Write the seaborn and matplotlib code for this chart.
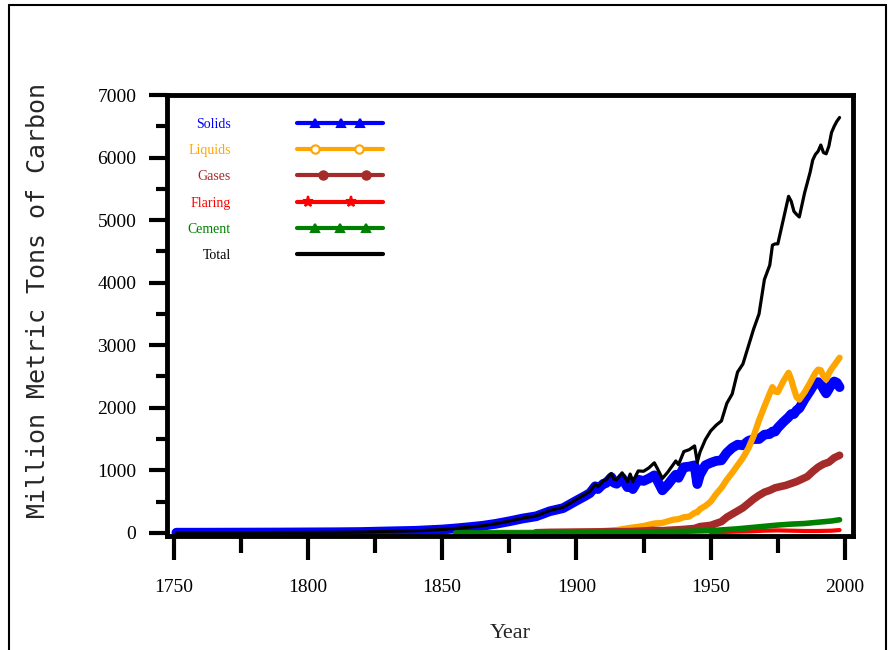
import numpy as np
import pandas as pd
import matplotlib
matplotlib.use("Agg")
import matplotlib.pyplot as plt
from matplotlib.lines import Line2D
from matplotlib.legend_handler import HandlerLine2D
from matplotlib.ticker import MultipleLocator
import seaborn as sns

# ---------------- data (million metric tons of carbon) ----------------
years_total = [1751, 1760, 1770, 1780, 1790, 1800, 1810, 1820, 1830, 1840,
               1850, 1855, 1860, 1865, 1870, 1875, 1880, 1885, 1890, 1895,
               1900, 1903, 1905, 1907, 1908, 1910, 1911, 1913, 1914, 1915,
               1917, 1919, 1920, 1921, 1923, 1925, 1927, 1929, 1930, 1932,
               1934, 1936, 1937, 1938, 1940, 1942, 1944, 1945, 1946, 1948,
               1950, 1952, 1954, 1956, 1958, 1960, 1962, 1964, 1966, 1968,
               1970, 1972, 1973, 1974, 1975, 1977, 1979, 1980, 1981, 1982,
               1983, 1985, 1987, 1988, 1989, 1990, 1991, 1992, 1993, 1994,
               1995, 1996, 1997, 1998]
total = [3, 3, 4, 5, 6, 8, 10, 14, 24, 33,
         54, 71, 91, 114, 147, 188, 236, 273, 356, 409,
         534, 610, 663, 780, 740, 830, 850, 950, 860, 850,
         960, 820, 940, 820, 990, 985, 1040, 1120, 1040, 870,
         970, 1090, 1150, 1090, 1300, 1330, 1390, 1130, 1290, 1490,
         1630, 1720, 1790, 2070, 2220, 2570, 2700, 2980, 3260, 3500,
         4050, 4280, 4600, 4620, 4620, 5000, 5380, 5300, 5140, 5090,
         5050, 5440, 5760, 5960, 6050, 6100, 6200, 6080, 6060, 6180,
         6400, 6500, 6580, 6640]

years_solid = years_total
solids = [3, 3, 4, 5, 6, 8, 10, 14, 24, 33,
          54, 71, 91, 113, 145, 185, 230, 265, 345, 395,
          515, 585, 635, 745, 700, 785, 795, 890, 800, 785,
          880, 730, 830, 700, 850, 830, 870, 920, 850, 680,
          770, 880, 930, 880, 1050, 1060, 1080, 780, 930, 1080,
          1120, 1150, 1160, 1280, 1360, 1410, 1400, 1470, 1500, 1500,
          1570, 1580, 1620, 1620, 1680, 1770, 1850, 1900, 1900, 1960,
          1990, 2140, 2270, 2340, 2400, 2410, 2380, 2300, 2230, 2300,
          2380, 2420, 2400, 2330]

years_liquid = [1870, 1875, 1880, 1885, 1890, 1895, 1900, 1905, 1910, 1913,
                1915, 1920, 1925, 1929, 1932, 1936, 1938, 1940, 1942, 1944,
                1945, 1946, 1948, 1950, 1952, 1954, 1956, 1958, 1960, 1962,
                1964, 1966, 1968, 1970, 1972, 1973, 1974, 1975, 1977, 1979,
                1980, 1981, 1982, 1983, 1985, 1987, 1988, 1989, 1990, 1991,
                1992, 1993, 1994, 1995, 1996, 1997, 1998]
liquids = [1, 2, 3, 5, 8, 10, 16, 20, 30, 40,
           45, 80, 110, 150, 160, 210, 220, 250, 260, 320,
           330, 380, 430, 500, 620, 720, 850, 960, 1080, 1200,
           1350, 1550, 1800, 2020, 2230, 2330, 2260, 2250, 2420, 2560,
           2450, 2300, 2170, 2130, 2250, 2400, 2480, 2560, 2610, 2600,
           2500, 2450, 2550, 2620, 2680, 2740, 2800]

years_gas = [1885, 1890, 1895, 1900, 1905, 1910, 1915, 1920, 1925, 1929,
             1932, 1936, 1940, 1944, 1946, 1948, 1950, 1952, 1954, 1956,
             1958, 1960, 1962, 1964, 1966, 1968, 1970, 1972, 1974, 1976,
             1978, 1980, 1982, 1984, 1986, 1988, 1990, 1992, 1994, 1996,
             1998]
gases = [2, 8, 10, 12, 14, 16, 18, 20, 30, 40,
         35, 45, 55, 70, 100, 110, 120, 150, 180, 250,
         300, 350, 400, 470, 540, 600, 650, 680, 720, 740,
         760, 790, 820, 860, 900, 980, 1050, 1100, 1130, 1200,
         1240]

years_flaring = [1950, 1955, 1960, 1965, 1970, 1975, 1980, 1985, 1990, 1995, 1998]
flaring = [10, 15, 20, 25, 35, 40, 35, 30, 30, 35, 45]

years_cement = [1855, 1900, 1928, 1930, 1940, 1950, 1955, 1960, 1965, 1970,
                1975, 1980, 1985, 1990, 1995, 1998]
cement = [0, 0, 10, 20, 25, 35, 50, 65, 85, 105,
          125, 140, 150, 170, 190, 210]

labels = ["Solids", "Liquids", "Gases", "Flaring", "Cement", "Total"]
colors = ["#0000ff", "#ffa500", "#a52a2a", "#ff0000", "#008000", "#000000"]

x_ticks = [1750, 1800, 1850, 1900, 1950, 2000]
y_ticks = [0, 1000, 2000, 3000, 4000, 5000, 6000, 7000]

# ---------------- figure ----------------
sns.set_style("ticks")
plt.rcParams['font.family'] = ['Liberation Serif', 'DejaVu Serif']

fig = plt.figure(figsize=(8.88, 6.5), dpi=100)
fig.patch.set_facecolor("white")
ax = fig.add_axes([167 / 888, 1 - 536 / 650, (853 - 167) / 888, (536 - 95) / 650])
ax.set_facecolor("white")

series = [
    (years_solid, solids, 7.0),
    (years_liquid, liquids, 4.5),
    (years_gas, gases, 5.5),
    (years_flaring, flaring, 3.0),
    (years_cement, cement, 4.0),
    (years_total, total, 2.3),
]
for (yrs, vals, lw), c in zip(series, colors):
    sns.lineplot(x=yrs, y=vals, color=c, linewidth=lw, ax=ax, legend=False,
                 solid_joinstyle="round", solid_capstyle="round")

ax.set_xlim(1747.5, 2003)
ax.set_ylim(-50, 7000)
ax.set_xticks(x_ticks)
ax.set_yticks(y_ticks)
ax.xaxis.set_minor_locator(MultipleLocator(25))
ax.yaxis.set_minor_locator(MultipleLocator(500))

for s in ax.spines.values():
    s.set_visible(True)
    s.set_linewidth(3.5)
    s.set_color("black")

ax.tick_params(axis="x", which="major", direction="out", length=17, width=3,
               pad=14, labelsize=14, colors="black")
ax.tick_params(axis="x", which="minor", direction="out", length=12, width=3,
               colors="black")
ax.tick_params(axis="y", which="major", direction="out", length=13, width=3,
               pad=9, labelsize=14, colors="black")
ax.tick_params(axis="y", which="minor", direction="out", length=8, width=3,
               colors="black")

ax.set_xlabel("Year", fontsize=16)
ax.xaxis.set_label_coords(0.5, -0.2)
ax.set_ylabel("Million Metric Tons of Carbon", fontsize=18,
              family=["DejaVu Sans Mono", "DejaVu Sans"])
ax.yaxis.set_label_coords(-0.17, 0.535)


# ---------------- legend ----------------
class FullLineHandler(HandlerLine2D):
    """Legend sample: a full-width line with markers at chosen fractions."""

    def __init__(self, fracs, **kw):
        super().__init__(**kw)
        self.fracs = fracs

    def create_artists(self, legend, orig_handle, xdescent, ydescent,
                       width, height, fontsize, trans):
        y = height / 2 - ydescent
        x0 = -xdescent
        line = Line2D([x0, x0 + width], [y, y])
        self.update_prop(line, orig_handle, legend)
        line.set_marker("None")
        line.set_transform(trans)
        arts = [line]
        if self.fracs:
            xs = [x0 + f * width for f in self.fracs]
            mk = Line2D(xs, [y] * len(xs))
            self.update_prop(mk, orig_handle, legend)
            mk.set_linestyle("None")
            mk.set_transform(trans)
            arts.append(mk)
        return arts


markers = ["^", "o", "o", "*", "^", "None"]
marker_fracs = [[0.2, 0.51, 0.73], [0.21, 0.72], [0.3, 0.8], [0.12, 0.62],
                [0.2, 0.5, 0.8], []]
handles = []
hmap = {}
for lab, c, m, fr in zip(labels, colors, markers, marker_fracs):
    h = Line2D([], [], color=c, lw=3, marker=m, markersize=6 if m != "*" else 8,
               markerfacecolor=c if lab != "Liquids" else "white",
               markeredgecolor=c, markeredgewidth=1.5, label=lab)
    handles.append(h)
    hmap[h] = FullLineHandler(fr)

leg = ax.legend(handles=handles, loc="upper left", bbox_to_anchor=(0.03, 0.948),
                frameon=False, markerfirst=False, handlelength=6.2,
                handletextpad=4.8, labelspacing=0.95, fontsize=10,
                borderpad=0, borderaxespad=0, handler_map=hmap,
                labelcolor="linecolor")

# ---------------- outer frame ----------------
lx, rx, ty = 9 / 888, 886 / 888, 1 - 5 / 650
fig.add_artist(Line2D([lx, lx], [0, ty], transform=fig.transFigure, color="black", lw=1.5))
fig.add_artist(Line2D([rx, rx], [0, ty], transform=fig.transFigure, color="black", lw=1.5))
fig.add_artist(Line2D([lx, rx], [ty, ty], transform=fig.transFigure, color="black", lw=1.5))

fig.savefig("out.png", dpi=100, facecolor="white")
